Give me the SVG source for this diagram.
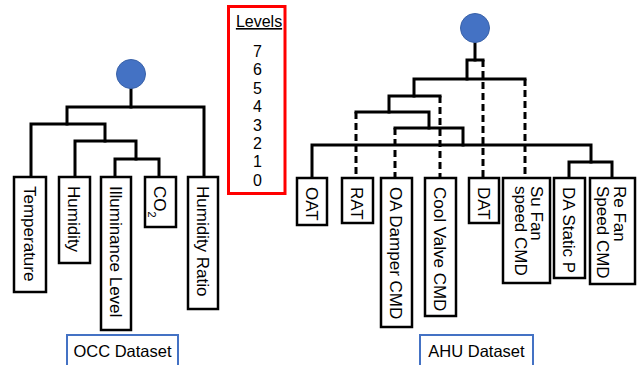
<svg xmlns="http://www.w3.org/2000/svg" width="641" height="365" viewBox="0 0 641 365">
<style>
  .bg { fill: #ffffff; }
  .ln { fill: none; stroke: #000; stroke-width: 3; stroke-linecap: square; stroke-linejoin: miter; }
  .dl { fill: none; stroke: #000; stroke-width: 3; stroke-dasharray: 7 4; }
  .box { fill: #fff; stroke: #000; stroke-width: 2.5; }
  .root { fill: #4472C4; stroke: #3A62A8; stroke-width: 1; }
  .t { font-family: "Liberation Sans", Arial, sans-serif; font-size: 17px; fill: #000; }
  .lab { font-family: "Liberation Sans", Arial, sans-serif; font-size: 16.5px; fill: #000; text-anchor: middle; }
  .dsbox { fill: #fff; stroke: #4472C4; stroke-width: 2; }
  .lv { font-family: "Liberation Sans", Arial, sans-serif; font-size: 16px; fill: #000; text-anchor: middle; }
</style>
<rect class="bg" x="0" y="0" width="641" height="365"/>

<g id="connectors">
  <!-- OCC tree -->
  <path class="ln" d="M131,89 V107"/>
  <path class="ln" d="M67,124 V107 H204 V177"/>
  <path class="ln" d="M31,177 V124 H105 V141"/>
  <path class="ln" d="M75,177 V141 H136 V159"/>
  <path class="ln" d="M115,177 V159 H159 V177"/>
  <!-- AHU tree -->
  <path class="ln" d="M475,43 V60"/>
  <path class="ln" d="M467,79 V60 H483"/>
  <path class="dl" d="M483,60 V178"/>
  <path class="ln" d="M414,96 V79 H525"/>
  <path class="dl" d="M525,79 V178"/>
  <path class="ln" d="M389,112 V96 H440"/>
  <path class="dl" d="M440,96 V178"/>
  <path class="ln" d="M429,128 V112 H356"/>
  <path class="dl" d="M356,112 V178"/>
  <path class="ln" d="M463,145 V128 H395"/>
  <path class="dl" d="M395,128 V178"/>
  <path class="ln" d="M312,178 V145 H591 V162"/>
  <path class="ln" d="M569,178 V162 H612 V178"/>
</g>

<g id="occ-root"><circle class="root" cx="131" cy="74" r="14.5"/></g>
<g id="ahu-root"><circle class="root" cx="475" cy="28" r="14.5"/></g>

<g id="temperature">
  <rect class="box" x="14" y="177" width="32" height="115"/>
  <text class="t" transform="translate(23.5,186) rotate(90)">Temperature</text>
</g>
<g id="humidity">
  <rect class="box" x="59" y="177" width="31" height="86"/>
  <text class="t" transform="translate(68,186) rotate(90)">Humidity</text>
</g>
<g id="illuminance">
  <rect class="box" x="101" y="177" width="30" height="153"/>
  <text class="t" transform="translate(109.5,186) rotate(90)">Illuminance Level</text>
</g>
<g id="co2">
  <rect class="box" x="145" y="177" width="31" height="50"/>
  <text class="t" transform="translate(154,186) rotate(90)">CO<tspan font-size="11" baseline-shift="sub">2</tspan></text>
</g>
<g id="humidity-ratio">
  <rect class="box" x="188" y="177" width="30" height="132"/>
  <text class="t" transform="translate(196.5,186) rotate(90)">Humidity Ratio</text>
</g>

<g id="oat">
  <rect class="box" x="297" y="178" width="30" height="47"/>
  <text class="t" transform="translate(305.5,187) rotate(90)">OAT</text>
</g>
<g id="rat">
  <rect class="box" x="342" y="178" width="31" height="45"/>
  <text class="t" transform="translate(351,187) rotate(90)">RAT</text>
</g>
<g id="oa-damper">
  <rect class="box" x="381" y="178" width="31" height="149"/>
  <text class="t" transform="translate(390,187) rotate(90)">OA Damper CMD</text>
</g>
<g id="cool-valve">
  <rect class="box" x="425" y="178" width="31" height="138"/>
  <text class="t" transform="translate(434,187) rotate(90)">Cool Valve CMD</text>
</g>
<g id="dat">
  <rect class="box" x="469" y="178" width="30" height="45"/>
  <text class="t" transform="translate(477.5,187) rotate(90)">DAT</text>
</g>
<g id="su-fan">
  <rect class="box" x="503" y="178" width="47" height="105"/>
  <text class="t" transform="translate(531,186) rotate(90)">Su Fan</text>
  <text class="t" transform="translate(514.5,186) rotate(90)">speed CMD</text>
</g>
<g id="da-static">
  <rect class="box" x="554" y="178" width="31" height="100"/>
  <text class="t" transform="translate(563,187) rotate(90)">DA Static P</text>
</g>
<g id="re-fan">
  <rect class="box" x="590" y="178" width="45" height="106"/>
  <text class="t" transform="translate(614,186) rotate(90)">Re Fan</text>
  <text class="t" transform="translate(597,186) rotate(90)">Speed CMD</text>
</g>

<g id="occ-dataset">
  <rect class="dsbox" x="67" y="335" width="111" height="34"/>
  <text class="lab" x="122.5" y="356.5">OCC Dataset</text>
</g>
<g id="ahu-dataset">
  <rect class="dsbox" x="420" y="335" width="113" height="34"/>
  <text class="lab" x="476.5" y="356.5">AHU Dataset</text>
</g>

<g id="levels">
  <rect x="228.5" y="6.5" width="56.5" height="187" fill="#fff" stroke="#FF0000" stroke-width="3"/>
  <text class="lv" x="259" y="27" font-size="15" text-decoration="underline">Levels</text>
  <text class="lv" x="257.5" y="57">7</text>
  <text class="lv" x="257.5" y="75.4">6</text>
  <text class="lv" x="257.5" y="93.8">5</text>
  <text class="lv" x="257.5" y="112.2">4</text>
  <text class="lv" x="257.5" y="130.6">3</text>
  <text class="lv" x="257.5" y="149">2</text>
  <text class="lv" x="257.5" y="167.4">1</text>
  <text class="lv" x="257.5" y="185.8">0</text>
</g>
</svg>
